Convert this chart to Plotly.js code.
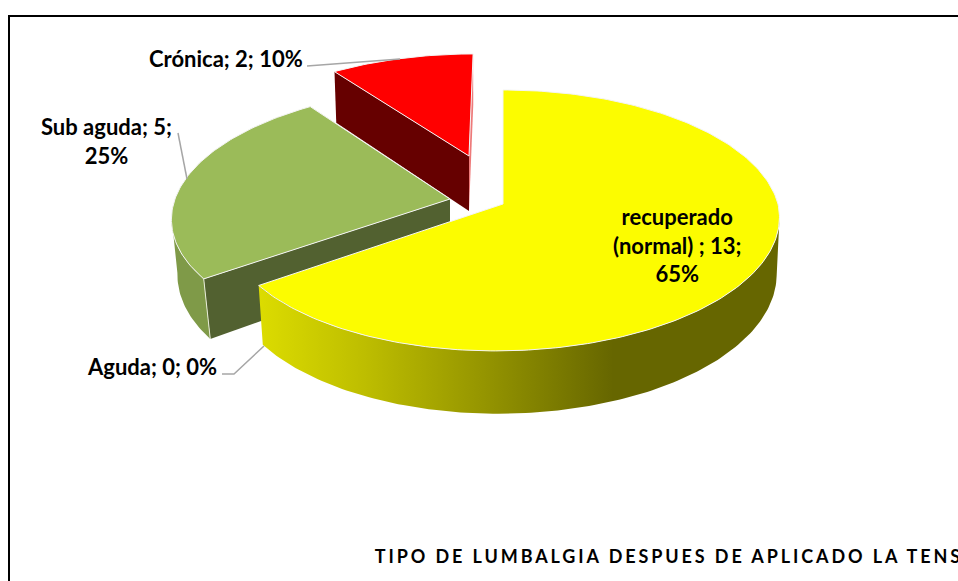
<!DOCTYPE html>
<html>
<head>
<meta charset="utf-8">
<script src="https://cdn.plot.ly/plotly-3.0.1.min.js"></script>
<style>html,body{margin:0;padding:0;background:#fff;overflow:hidden}#chart{width:958px;height:581px}
.annotation[data-index="4"] text{letter-spacing:2.9px}</style>
</head>
<body>
<div id="chart"></div>
<script>
// ---- data ----
const categories = ["recuperado<br>(normal) ", "Aguda", "Sub aguda", "Crónica"];
const values = [13, 0, 5, 2];
const pctBreak = [true, false, true, false];   // line break before the percentage
const chartTitle = "TIPO DE LUMBALGIA DESPUES DE APLICADO LA TENS";

// ---- styling / geometry of the exploded 3-D look ----
const topColors = ["#fcfc00", "#c0504d", "#9bbb59", "#ff0000"];
const outerWall = [null, null, "#7f9a48", null];
const innerWall = [null, null, "#526130", "#660000"];
const A = 275, B = 128.4, P = 0.126;
const geomTop = [
  {ax:503, ay:204, sx:1,    sy:1,    k:0, kd:-0.05},
  null,
  {ax:450, ay:199, sx:1,    sy:0.98, k:-0.075, kd:0},
  {ax:469, ay:156, sx:0.94, sy:0.895,k:-0.04, kd:0}
];
const geomBottom = [
  {ax:503, ay:259, sx:0.989,sy:1.053,k:0, kd:-0.03},
  null,
  {ax:450, ay:254, sx:0.98, sy:1.043,k:-0.05, kd:0},
  {ax:469, ay:211, sx:0.929,sy:0.936,k:-0.04, kd:0}
];
const wallStart = [97, null, 262, null];  // silhouette angle of the visible outer wall

const total = values.reduce((a,b)=>a+b,0);
function pt(g,t){
  const r=t*Math.PI/180, X=Math.sin(r), Y=Math.cos(r), w=1+P*Y;
  const dx=A*X/w*g.sx, dy=-B*Y/w*g.sy;
  return [g.ax+dx+g.k*dy+(dy>0?g.kd*dy:0), g.ay+dy];
}
function arc(g,t0,t1){
  const out=[], n=Math.max(2,Math.ceil(Math.abs(t1-t0)));
  for(let i=0;i<=n;i++) out.push(pt(g,t0+(t1-t0)*i/n));
  return out;
}
function poly(points,extra){
  const x=points.map(p=>p[0]), y=points.map(p=>p[1]);
  x.push(x[0]); y.push(y[0]);
  return Object.assign({type:"scatter",mode:"lines",x,y,fill:"toself",hoverinfo:"skip",showlegend:false,
    line:{width:0,color:"rgba(0,0,0,0)"}},extra);
}
// slice angles from the values
const starts=[],ends=[]; let acc=0;
values.forEach(v=>{starts.push(acc); acc+=v/total*360; ends.push(acc);});

const traces=[];
[3,2,1,0].forEach(i=>{
  if(values[i]===0) return;
  const gT=geomTop[i], gB=geomBottom[i];
  const apexT=[gT.ax,gT.ay], apexB=[gB.ax,gB.ay];
  if(i===3){ // thin sliver of the far radial face
    traces.push(poly([apexT,pt(gT,ends[i]),pt(gB,ends[i]),apexB],{fillcolor:"#ee7a7a"}));
  }
  if(innerWall[i]){
    traces.push(poly([apexT,pt(gT,starts[i]),pt(gB,starts[i]),apexB],{fillcolor:innerWall[i]}));
  }
  if(wallStart[i]!==null){
    const pts=arc(gT,wallStart[i],starts[i]===0?ends[i]:starts[i])
      .concat(arc(gB,starts[i]===0?ends[i]:starts[i],wallStart[i]));
    const extra = i===0
      ? {fillgradient:{type:"horizontal",start:259,stop:780,
          colorscale:[[0,"#dcdc00"],[0.2,"#bebe00"],[0.43,"#959500"],[0.68,"#666600"],[1,"#666600"]]}}
      : {fillcolor:outerWall[i]};
    traces.push(poly(pts,extra));
    if(i===2){ // white seam on the corner
      const a=pt(gT,starts[i]), b=pt(gB,starts[i]);
      traces.push({type:"scatter",mode:"lines",x:[a[0],b[0]],y:[a[1],b[1]],hoverinfo:"skip",showlegend:false,
        line:{color:"#e8ecd8",width:1}});
    }
  }
  traces.push(poly([apexT].concat(arc(gT,starts[i],ends[i])),{fillcolor:topColors[i],
    line:{color:"#f4f4f4",width:1}}));
});

function labelText(i){
  const pct=Math.round(values[i]/total*100);
  return categories[i]+"; "+values[i]+";"+(pctBreak[i]?"<br>":" ")+pct+"%";
}
const labelFont={family:"Lato, Carlito, sans-serif",size:22,color:"#000"};
function label(i,x,y,xanchor){
  return {xref:"x",yref:"y",x,y,xanchor,yanchor:"middle",showarrow:false,text:"<b>"+labelText(i)+"</b>",
    font:labelFont,align:"center"};
}
const annotations=[
  label(0,677,245,"center"),
  label(1,219,366,"right"),
  label(2,106,141,"center"),
  label(3,305,58,"right"),
  {xref:"x",yref:"y",x:438,y:556,xanchor:"left",yanchor:"middle",showarrow:false,
   text:"<b>"+chartTitle+"</b>",font:{family:"Lato, Carlito, sans-serif",size:18,color:"#000"}}
];
const leader={color:"#a6a6a6",width:1.5};
const shapes=[
  {type:"path",xref:"x",yref:"y",path:"M307,66 L400,59",line:leader},
  {type:"path",xref:"x",yref:"y",path:"M178,133 L187,179",line:leader},
  {type:"path",xref:"x",yref:"y",path:"M222,374 L234,374 L264,346",line:leader},
  {type:"path",xref:"x",yref:"y",path:"M9,581 L9,16 L958,16",line:{color:"#000",width:2}}
];
const hidden={visible:false,fixedrange:true};
const layout={
  width:958,height:581,margin:{l:0,r:0,t:0,b:0},
  paper_bgcolor:"#fff",plot_bgcolor:"#fff",showlegend:false,
  xaxis:Object.assign({range:[0,958]},hidden),
  yaxis:Object.assign({range:[581,0]},hidden),
  annotations,shapes
};
Plotly.newPlot("chart",traces,layout,{displayModeBar:false,staticPlot:true});
</script>
</body>
</html>
